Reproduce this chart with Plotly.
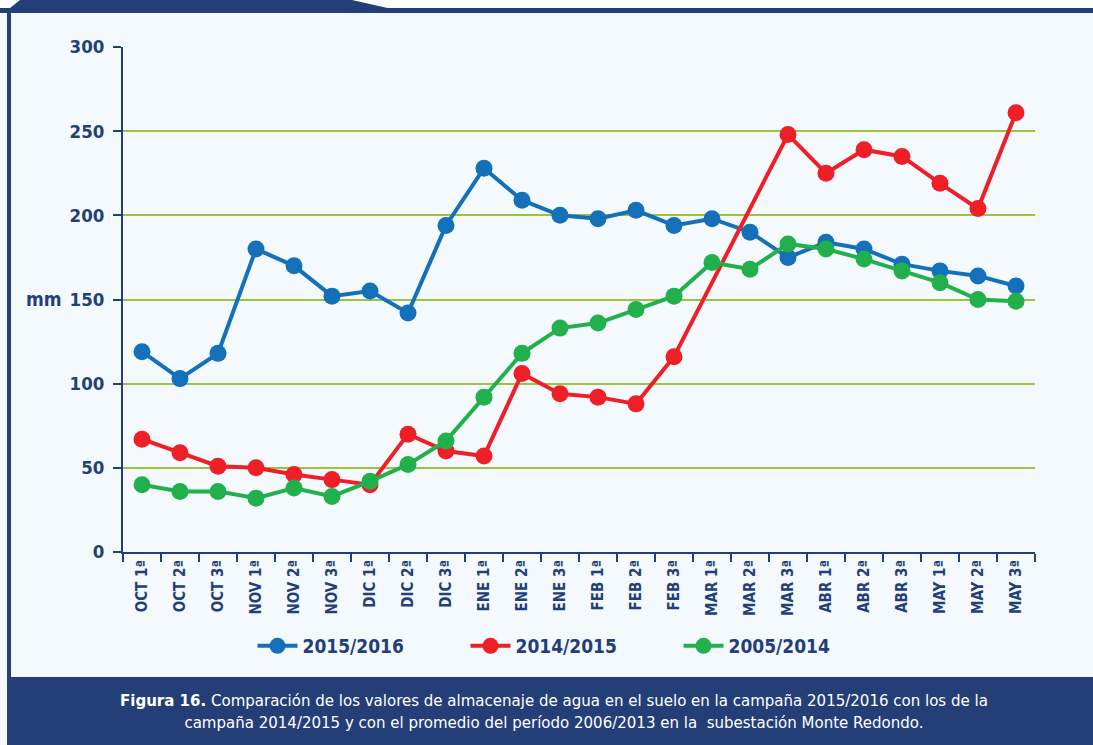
import plotly.graph_objects as go

# Ten-day periods of the growing season (October to May)
periods = [
    "OCT 1ª", "OCT 2ª", "OCT 3ª", "NOV 1ª", "NOV 2ª", "NOV 3ª",
    "DIC 1ª", "DIC 2ª", "DIC 3ª", "ENE 1ª", "ENE 2ª", "ENE 3ª",
    "FEB 1ª", "FEB 2ª", "FEB 3ª", "MAR 1ª", "MAR 2ª", "MAR 3ª",
    "ABR 1ª", "ABR 2ª", "ABR 3ª", "MAY 1ª", "MAY 2ª", "MAY 3ª",
]

# Soil water storage (mm)
season_2015_2016 = [119, 103, 118, 180, 170, 152, 155, 142, 194, 228, 209, 200,
                    198, 203, 194, 198, 190, 175, 184, 180, 171, 167, 164, 158]
season_2014_2015 = [67, 59, 51, 50, 46, 43, 40, 70, 60, 57, 106, 94,
                    92, 88, 116, None, None, 248, 225, 239, 235, 219, 204, 261]
average_2005_2014 = [40, 36, 36, 32, 38, 33, 42, 52, 66, 92, 118, 133,
                     136, 144, 152, 172, 168, 183, 180, 174, 167, 160, 150, 149]

series_names = ["2015/2016", "2014/2015", "2005/2014"]
series_values = [season_2015_2016, season_2014_2015, average_2005_2014]
series_colors = ["#1470B9", "#EE1F26", "#22B04C"]

y_ticks = [0, 50, 100, 150, 200, 250, 300]

NAVY = "#243F77"
GRID = "#9CC33B"
BG = "#F3F9FD"
FONT = "Liberation Sans Narrow, DejaVu Sans Condensed, Arial Narrow, sans-serif"

W, H = 1093, 745
L, R, T, B = 123, 58, 47, 193
PW, PH = W - L - R, H - T - B


def px_x(x):
    return (x - L) / PW


def px_y(y):
    return (H - B - y) / PH


fig = go.Figure()
for name, vals, col in zip(series_names, series_values, series_colors):
    fig.add_trace(go.Scatter(
        x=periods, y=vals, name=name, mode="lines+markers",
        connectgaps=True,
        line=dict(color=col, width=4),
        marker=dict(color=col, size=17),
    ))

shapes = [
    # white strip above the top frame line
    dict(type="rect", xref="paper", yref="paper",
         x0=px_x(0), x1=px_x(W), y0=px_y(8), y1=px_y(0),
         fillcolor="white", line=dict(width=0), layer="below"),
    # top frame line
    dict(type="rect", xref="paper", yref="paper",
         x0=px_x(0), x1=px_x(W), y0=px_y(13), y1=px_y(8),
         fillcolor=NAVY, line=dict(width=0), layer="below"),
    # header tab
    dict(type="path", xref="paper", yref="paper",
         path=(f"M {px_x(5)} {px_y(12)} L {px_x(20)} {px_y(0)} "
               f"L {px_x(352)} {px_y(0)} L {px_x(392)} {px_y(9)} "
               f"L {px_x(392)} {px_y(12)} Z"),
         fillcolor=NAVY, line=dict(width=0), layer="below"),
    # left frame line
    dict(type="rect", xref="paper", yref="paper",
         x0=px_x(7), x1=px_x(11), y0=px_y(678), y1=px_y(10),
         fillcolor=NAVY, line=dict(width=0), layer="below"),
    # caption box
    dict(type="rect", xref="paper", yref="paper",
         x0=px_x(7), x1=px_x(W), y0=px_y(H), y1=px_y(677),
         fillcolor=NAVY, line=dict(width=0), layer="below"),
]

annotations = [
    dict(text="<b>mm</b>", xref="paper", yref="paper",
         x=px_x(44), y=px_y(299), xanchor="center", yanchor="middle",
         showarrow=False, font=dict(family=FONT, size=19, color=NAVY)),
    dict(text=("<b>Figura 16.</b> Comparación de los valores de almacenaje de agua "
               "en el suelo en la campaña 2015/2016 con los de la<br>"
               "campaña 2014/2015 y con el promedio del período 2006/2013 "
               "en la  subestación Monte Redondo."),
         xref="paper", yref="paper", x=px_x(554), y=px_y(711),
         xanchor="center", yanchor="middle", align="center", showarrow=False,
         font=dict(family=FONT, size=16.7, color="white")),
]

fig.update_layout(
    width=W, height=H,
    margin=dict(l=L, r=R, t=T, b=B, pad=0),
    paper_bgcolor=BG, plot_bgcolor=BG,
    showlegend=True,
    legend=dict(orientation="h", x=px_x(572), xanchor="center",
                y=px_y(646), yanchor="middle",
                font=dict(family=FONT, size=19, color=NAVY, weight="bold"),
                itemwidth=40,
                entrywidth=158, entrywidthmode="pixels",
                bgcolor="rgba(0,0,0,0)"),
    shapes=shapes,
    annotations=annotations,
    xaxis=dict(
        type="category", categoryorder="array", categoryarray=periods,
        tickangle=-90, tickson="boundaries", ticks="outside", ticklen=8,
        tickwidth=2, tickcolor=NAVY, showline=True, linecolor=NAVY,
        linewidth=2, showgrid=False, zeroline=False,
        tickfont=dict(family=FONT, size=15, color=NAVY, weight="bold"),
        range=[-0.5, len(periods) - 0.5],
    ),
    yaxis=dict(
        range=[0, 300], tickvals=y_ticks, ticks="outside", ticklen=8,
        tickwidth=2, tickcolor=NAVY, showline=True, linecolor=NAVY,
        linewidth=2, showgrid=True, gridcolor=GRID, gridwidth=2,
        zeroline=False, ticklabelstandoff=5,
        tickfont=dict(family=FONT, size=18.5, color=NAVY, weight="bold"),
    ),
)

fig.write_html("out.html")
